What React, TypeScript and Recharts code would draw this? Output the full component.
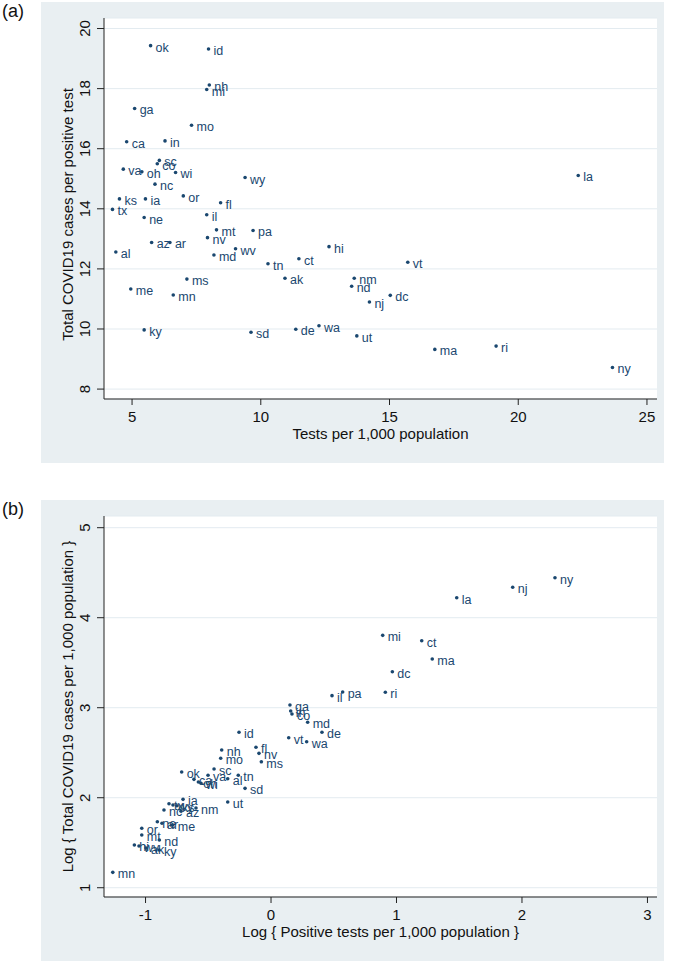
import React from "react";
import { ScatterChart, Scatter, XAxis, YAxis, CartesianGrid } from "recharts";

// ---------- Panel (a) ----------
const aStates = ["ok","id","nh","mi","ga","mo","ca","in","sc","co","va","oh","wi","wy","nc","ks","ia","or","fl","tx","il","ne","mt","pa","nv","az","ar","al","md","wv","tn","ct","hi","ms","ak","me","mn","ky","sd","de","wa","vt","nm","nd","dc","nj","ut","ma","ri","ny","la"];
const aTestsPer1000 = [5.72,7.97,8.00,7.90,5.10,7.31,4.79,6.28,6.06,5.98,4.66,5.38,6.69,9.39,5.89,4.51,5.52,6.99,8.44,4.24,7.90,5.47,8.28,9.70,7.93,5.76,6.47,4.37,8.18,9.02,10.28,11.48,12.65,7.13,10.94,4.95,6.60,5.47,9.62,11.36,12.26,15.71,13.63,13.53,15.03,14.22,13.73,16.76,19.14,23.66,22.33];
const aCasesPerPositive = [19.43,19.32,18.12,17.97,17.34,16.78,16.23,16.26,15.61,15.50,15.32,15.23,15.21,15.04,14.82,14.33,14.33,14.43,14.20,13.98,13.80,13.71,13.30,13.28,13.04,12.88,12.88,12.56,12.46,12.67,12.17,12.34,12.74,11.66,11.69,11.33,11.13,9.97,9.89,9.99,10.11,12.22,11.69,11.42,11.12,10.90,9.77,9.32,9.43,8.72,15.11];
const aXTicks = [5, 10, 15, 20, 25];
const aYTicks = [8, 10, 12, 14, 16, 18, 20];

// ---------- Panel (b) ----------
const bStates = ["ny","nj","la","mi","ct","ma","dc","ri","pa","il","ga","in","co","md","de","vt","wa","id","nh","mo","fl","nv","ms","ok","sc","va","al","tn","sd","ca","oh","wi","ia","ut","nm","nc","az","ne","ar","me","or","mt","nd","ky","mn","hi","wv","ak","tx","wy","ks"];
const bLogPositive = [2.263,1.926,1.480,0.890,1.201,1.285,0.967,0.911,0.571,0.486,0.151,0.157,0.167,0.292,0.406,0.141,0.284,-0.255,-0.393,-0.401,-0.120,-0.096,-0.077,-0.712,-0.454,-0.502,-0.345,-0.261,-0.207,-0.614,-0.579,-0.558,-0.701,-0.345,-0.598,-0.853,-0.717,-0.906,-0.869,-0.783,-1.030,-1.030,-0.890,-0.892,-1.261,-1.089,-1.052,-0.996,-0.813,-0.781,-0.750];
const bLogCases = [4.444,4.338,4.222,3.804,3.744,3.541,3.400,3.171,3.174,3.134,3.030,2.963,2.930,2.838,2.727,2.667,2.622,2.727,2.530,2.438,2.560,2.493,2.400,2.285,2.319,2.249,2.211,2.249,2.104,2.204,2.174,2.160,1.982,1.952,1.886,1.863,1.850,1.733,1.716,1.697,1.660,1.586,1.530,1.419,1.171,1.474,1.463,1.441,1.933,1.919,1.910];
const bXTicks = [-1, 0, 1, 2, 3];
const bYTicks = [1, 2, 3, 4, 5];

const dataA = aStates.map((s, i) => ({ name: s, x: aTestsPer1000[i], y: aCasesPerPositive[i] }));
const dataB = bStates.map((s, i) => ({ name: s, x: bLogPositive[i], y: bLogCases[i] }));

const FONT = "'Liberation Sans', Arial, Helvetica, sans-serif";
const NAVY = "#1a476f";
const BG = "#e9eff2";
const GRID = "#e3ebf0";

const Dot = (props: any) => {
  const { cx, cy, payload } = props;
  if (cx == null || cy == null) return null;
  return (
    <g>
      <circle cx={cx} cy={cy} r={1.8} fill={NAVY} />
      <text x={cx + 5} y={cy + 6} fontSize={12.5} fill={NAVY} fontFamily={FONT}>
        {payload.name}
      </text>
    </g>
  );
};

const XTick = (props: any) => {
  const { x, y, payload } = props;
  return (
    <text x={x} y={y + 16.5} textAnchor="middle" fontSize={15} fill="#111" fontFamily={FONT}>
      {payload.value}
    </text>
  );
};

const YTick = (props: any) => {
  const { x, y, payload } = props;
  return (
    <g transform={`translate(${x - 12},${y}) rotate(-90)`}>
      <text x={0} y={0} dy="0.36em" textAnchor="middle" fontSize={15} fill="#111" fontFamily={FONT}>
        {payload.value}
      </text>
    </g>
  );
};

const makeYTitle = (text: string, dyOff: number) => (props: any) => {
  const vb = props.viewBox || {};
  const cx = vb.x + 27;
  const cy = vb.y + vb.height / 2 + dyOff;
  return (
    <g transform={`translate(${cx},${cy}) rotate(-90)`}>
      <text x={0} y={0} dy="0.36em" textAnchor="middle" fontSize={15} fill="#111" fontFamily={FONT}>
        {text}
      </text>
    </g>
  );
};

const makeXTitle = (text: string, off: number) => (props: any) => {
  const vb = props.viewBox || {};
  return (
    <text x={vb.x + vb.width / 2} y={vb.y + off} textAnchor="middle" fontSize={15} fill="#111" fontFamily={FONT}>
      {text}
    </text>
  );
};

type PanelProps = {
  data: any[];
  xDomain: [number, number];
  yDomain: [number, number];
  xTicks: number[];
  yTicks: number[];
  xTitle: string;
  yTitle: string;
  yTitleOffset: number;
};

const Panel = ({ data, xDomain, yDomain, xTicks, yTicks, xTitle, yTitle, yTitleOffset }: PanelProps) => (
  <ScatterChart width={623} height={461} margin={{ top: 16, right: 7, left: 0, bottom: 0 }}>
    <CartesianGrid horizontal={true} vertical={false} fill="#ffffff" stroke={GRID} strokeWidth={1} />
    <XAxis
      type="number"
      dataKey="x"
      domain={xDomain}
      ticks={xTicks}
      allowDataOverflow
      height={64}
      tickSize={6}
      tickMargin={0}
      tick={<XTick />}
      axisLine={{ stroke: "#222", strokeWidth: 1 }}
      tickLine={{ stroke: "#222", strokeWidth: 1 }}
      label={makeXTitle(xTitle, 40)}
    />
    <YAxis
      type="number"
      dataKey="y"
      domain={yDomain}
      ticks={yTicks}
      allowDataOverflow
      width={63}
      tickSize={7}
      tickMargin={0}
      tick={<YTick />}
      axisLine={{ stroke: "#222", strokeWidth: 1 }}
      tickLine={{ stroke: "#222", strokeWidth: 1 }}
      label={makeYTitle(yTitle, yTitleOffset)}
    />
    <Scatter data={data} shape={Dot} isAnimationActive={false} />
  </ScatterChart>
);

export default function App() {
  return (
    <div style={{ position: "absolute", left: 0, top: 0, width: 676, height: 963, background: "#fff", fontFamily: FONT }}>
      <div style={{ position: "absolute", left: 2, top: 0, fontSize: 18, lineHeight: "22px", color: "#111" }}>(a)</div>
      <div style={{ position: "absolute", left: 41, top: 2, width: 623, height: 461, background: BG }}>
        <Panel
          data={dataA}
          xDomain={[3.91, 25.39]}
          yDomain={[7.67, 20.35]}
          xTicks={aXTicks}
          yTicks={aYTicks}
          xTitle="Tests per 1,000 population"
          yTitle="Total COVID19 cases per positive test"
          yTitleOffset={6}
        />
      </div>
      <div style={{ position: "absolute", left: 2, top: 498, fontSize: 18, lineHeight: "22px", color: "#111" }}>(b)</div>
      <div style={{ position: "absolute", left: 41, top: 500, width: 623, height: 461, background: BG }}>
        <Panel
          data={dataB}
          xDomain={[-1.331, 3.076]}
          yDomain={[0.897, 5.13]}
          xTicks={bXTicks}
          yTicks={bYTicks}
          xTitle="Log { Positive tests per 1,000 population }"
          yTitle="Log { Total COVID19 cases per 1,000 population }"
          yTitleOffset={0}
        />
      </div>
    </div>
  );
}
